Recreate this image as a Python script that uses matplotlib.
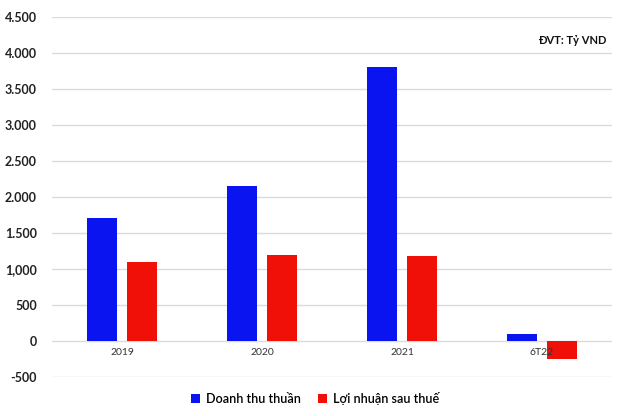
import matplotlib.pyplot as plt
import numpy as np

plt.rcParams['font.family'] = ['Lato', 'DejaVu Sans']

categories = ['2019', '2020', '2021', '6T22']
doanh_thu = [1710, 2150, 3810, 100]
loi_nhuan = [1100, 1200, 1180, -250]
y_ticks = [-500, 0, 500, 1000, 1500, 2000, 2500, 3000, 3500, 4000, 4500]
y_tick_labels = ['-500', '0', '500', '1,000', '1.500', '2.000', '2.500',
                 '3.000', '3.500', '4.000', '4.500']

fig = plt.figure(figsize=(6.3, 4.16), dpi=100)
ax = fig.add_axes([52 / 630, 1 - 377 / 416, 560 / 630, 360 / 416])

x = np.arange(len(categories))
w = 0.215
ax.bar(x - 0.14, doanh_thu, w, color='#0a14f0', label='Doanh thu thuần', zorder=2)
ax.bar(x + 0.14, loi_nhuan, w, color='#f01008', label='Lợi nhuận sau thuế', zorder=2)

ax.set_xlim(-0.5, 3.5)
ax.set_ylim(-500, 4500)
ax.set_yticks(y_ticks)
ax.set_yticklabels(y_tick_labels, fontsize=9, fontweight='bold', color='#222222')
ax.tick_params(axis='y', length=0, pad=11)
ax.set_xticks([])
ax.grid(axis='y', color='#d8dcdc', linewidth=1, zorder=0)
for s in ax.spines.values():
    s.set_visible(False)

for i, c in enumerate(categories):
    ax.annotate(c, (i, 0), xytext=(0, -5), textcoords='offset points',
                ha='center', va='top', fontsize=7.5, color='#333333', zorder=3)

ax.text(0.99, 0.935, 'ĐVT: Tỷ VND', transform=ax.transAxes, ha='right', va='center',
        fontsize=8, fontweight='bold', color='#111111')

ax.legend(loc='upper center', bbox_to_anchor=(0.47, -0.01), ncol=2, frameon=False,
          fontsize=9, handlelength=0.7, handleheight=0.7, columnspacing=1.4,
          handletextpad=0.5, prop={'weight': 'semibold', 'size': 9})

fig.savefig('out.png', dpi=100)
